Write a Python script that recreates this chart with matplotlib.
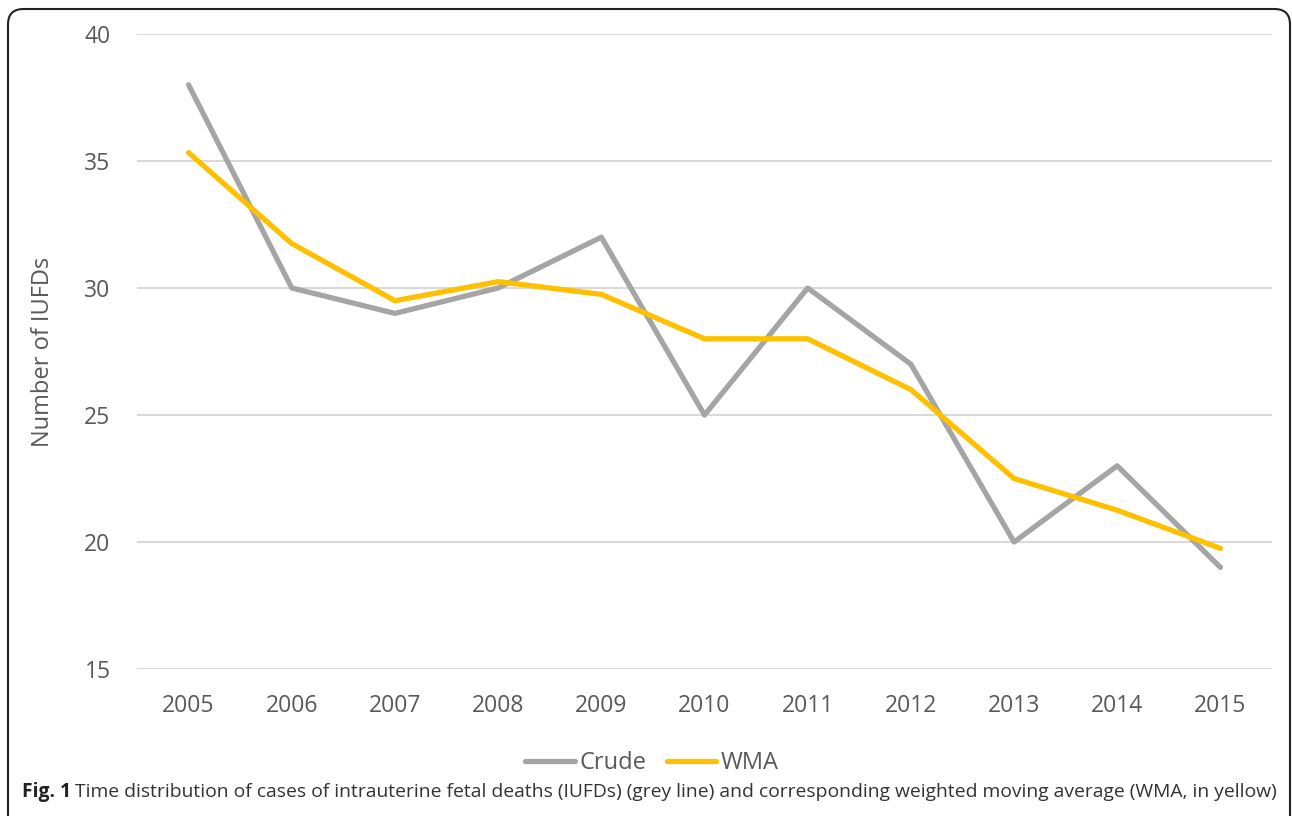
import matplotlib
matplotlib.use("Agg")
import matplotlib.pyplot as plt
from matplotlib.patches import FancyBboxPatch

years = ['2005', '2006', '2007', '2008', '2009', '2010', '2011', '2012', '2013', '2014', '2015']
crude = [38, 30, 29, 30, 32, 25, 30, 27, 20, 23, 19]
wma = [35.33, 31.75, 29.5, 30.25, 29.75, 28, 28, 26, 22.5, 21.25, 19.75]

plt.rcParams['font.family'] = ['Open Sans', 'DejaVu Sans']

fig = plt.figure(figsize=(12.92, 8.16), dpi=100)
ax = fig.add_axes([137 / 1292, 1 - 669 / 816, (1272 - 137) / 1292, (669 - 34) / 816])

x = range(len(years))
ax.plot(x, crude, color='#a5a5a5', lw=3.8, solid_capstyle='round', label='Crude', zorder=3)
ax.plot(x, wma, color='#ffc000', lw=3.8, solid_capstyle='round', label='WMA', zorder=4)

ax.set_xlim(-0.5, len(years) - 0.5)
ax.set_ylim(15, 40)
ax.set_yticks([15, 20, 25, 30, 35, 40])
ax.set_xticks(list(x))
ax.set_xticklabels(years)
ax.grid(axis='y', color='#d9d9d9', lw=1.5)
ax.set_axisbelow(True)
for s in ax.spines.values():
    s.set_visible(False)
ax.tick_params(length=0, labelsize=16.5, labelcolor='#595959')
ax.tick_params(axis='y', pad=19)
ax.tick_params(axis='x', pad=18)
ax.set_ylabel('Number of IUFDs', fontsize=17, color='#595959', labelpad=21)

leg = fig.legend(loc='center', bbox_to_anchor=(652 / 1292, 1 - 763 / 816), ncol=2, frameon=False,
                 fontsize=17, handlelength=2.1, handletextpad=0.2, columnspacing=0.85)
for t in leg.get_texts():
    t.set_color('#595959')

# caption
fig.text(22 / 1292, 1 - 792 / 816, 'Fig. 1', fontsize=13.9, fontweight='bold', color='#222222', va='center')
fig.text(75 / 1292, 1 - 792 / 816,
         'Time distribution of cases of intrauterine fetal deaths (IUFDs) (grey line) and corresponding weighted moving average (WMA, in yellow)',
         fontsize=13.9, color='#333333', va='center')

# rounded frame
box = FancyBboxPatch((8 / 1292, -0.02), (1282 / 1292), 1 - 9 / 816 + 0.02,
                     boxstyle='round,pad=0,rounding_size=0.012', transform=fig.transFigure,
                     fill=False, ec='#222222', lw=1.5, mutation_aspect=1292 / 816)
fig.patches.append(box)

fig.savefig('out.png', dpi=100)
